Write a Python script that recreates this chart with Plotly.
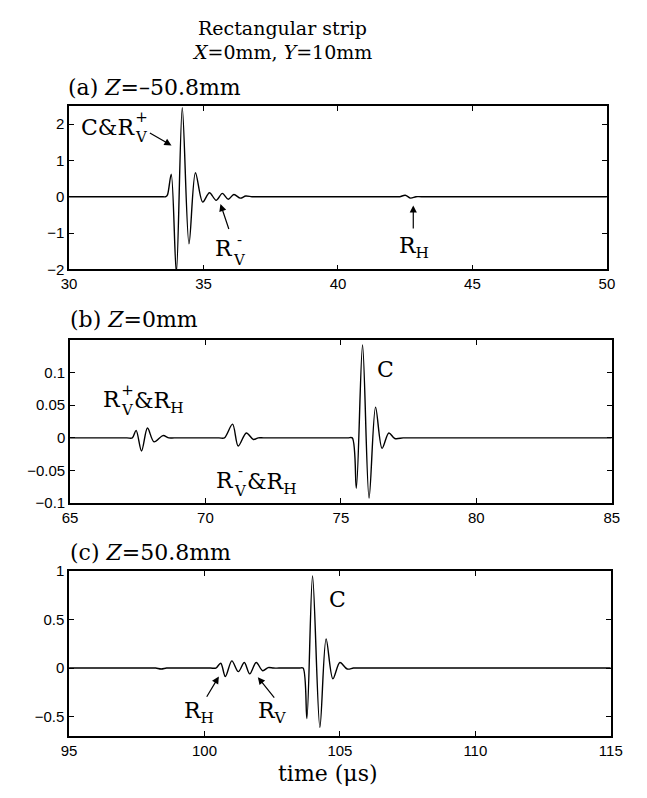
import plotly.graph_objects as go

W, H = 647, 798

# ---------------- data ----------------
# (a) Z = -50.8 mm
t_a = [30, 33.4, 33.6, 33.66, 33.80, 33.99, 34.21, 34.46, 34.70, 34.97, 35.22, 35.47, 35.70,
       35.92, 36.13, 36.37, 36.57, 36.8, 37.0, 42.1, 42.3, 42.5, 42.7, 42.9, 43.1, 50]
v_a = [0, 0, 0, 0.05, 0.62, -2.1, 2.45, -1.30, 0.66, -0.15, 0.11, -0.10, 0.09,
       -0.07, 0.06, -0.04, 0.02, 0, 0, 0, 0, 0.04, -0.04, 0, 0, 0]

# (b) Z = 0 mm
t_b = [65, 67.1, 67.30, 67.44, 67.64, 67.86, 68.10, 68.43, 68.65, 68.85, 70.5, 70.7, 71.0,
       71.21, 71.51, 71.77, 71.95, 72.15, 75.25, 75.42, 75.57, 75.80, 76.04, 76.28, 76.52,
       76.77, 76.99, 77.3, 77.5, 85]
v_b = [0, 0, 0, 0.0115, -0.020, 0.015, -0.006, 0.0035, 0, 0, 0, 0, 0.021,
       -0.0125, 0.0075, -0.0025, 0, 0, 0, 0, -0.077, 0.142, -0.092, 0.047, -0.016,
       0.0075, -0.001, 0, 0, 0]

# (c) Z = 50.8 mm
t_c = [95, 98.0, 98.2, 98.4, 98.6, 98.8, 100.22, 100.42, 100.6, 100.77, 101.01, 101.25,
       101.47, 101.67, 101.91, 102.15, 102.35, 102.55, 102.75, 103.5, 103.64, 103.78,
       103.99, 104.26, 104.49, 104.74, 105.0, 105.27, 105.5, 105.7, 115]
v_c = [0, 0, 0, -0.01, 0, 0, 0, 0, 0.05, -0.087, 0.074, -0.037,
       0.057, -0.06, 0.057, -0.027, 0.005, 0, 0, 0, 0, -0.52,
       0.946, -0.61, 0.30, -0.11, 0.057, -0.01, 0, 0, 0]

x_ticks_a = [30, 35, 40, 45, 50]
y_ticks_a = [-2, -1, 0, 1, 2]
x_ticks_b = [65, 70, 75, 80, 85]
y_ticks_b = [-0.1, -0.05, 0, 0.05, 0.1]
x_ticks_c = [95, 100, 105, 110, 115]
y_ticks_c = [-0.5, 0, 0.5, 1]

SERIF = "DejaVu Serif"
SANS = "Liberation Sans"

fig = go.Figure()
for i, (t, v) in enumerate([(t_a, v_a), (t_b, v_b), (t_c, v_c)]):
    sfx = "" if i == 0 else str(i + 1)
    fig.add_trace(go.Scatter(x=t, y=v, mode="lines", xaxis="x" + sfx, yaxis="y" + sfx,
                             line=dict(color="black", width=1.4, shape="spline", smoothing=0.9),
                             showlegend=False, hoverinfo="skip"))


def px_dom(a, b, total):
    return [a / total, b / total]


def py_dom(top, bottom):
    return [1 - bottom / H, 1 - top / H]


def axis_common(ticks, rng, dom, anchor):
    return dict(range=rng, domain=dom, anchor=anchor, tickvals=ticks,
                showline=True, linecolor="black", linewidth=1.6, mirror="ticks",
                ticks="inside", ticklen=5, tickcolor="black", tickwidth=1.2,
                showgrid=False, zeroline=False,
                tickfont=dict(family=SANS, size=15, color="black"))


fig.update_layout(
    width=W, height=H, margin=dict(l=0, r=0, t=0, b=0),
    paper_bgcolor="white", plot_bgcolor="white",
    xaxis=axis_common(x_ticks_a, [30, 50], px_dom(63, 618, W), "y"),
    yaxis=axis_common(y_ticks_a, [-2, 2.5], py_dom(99, 266), "x"),
    xaxis2=axis_common(x_ticks_b, [65, 85], px_dom(64, 623, W), "y2"),
    yaxis2=axis_common(y_ticks_b, [-0.1, 0.15], py_dom(338, 505), "x2"),
    xaxis3=axis_common(x_ticks_c, [95, 115], px_dom(63, 622, W), "y3"),
    yaxis3=axis_common(y_ticks_c, [-0.7, 1], py_dom(574, 743), "x3"),
)

ann = []


def ptext(text, x, y, size=18, xanchor="center", yanchor="middle"):
    ann.append(dict(text=text, x=x / W, y=1 - y / H, xref="paper", yref="paper",
                    xanchor=xanchor, yanchor=yanchor, showarrow=False, borderpad=0,
                    font=dict(family=SERIF, size=size, color="black")))


def stacked(x, y, sup, sub, size=15):
    # superscript sitting directly above the subscript
    ann.append(dict(text=sup + "<br>" + sub, x=x / W, y=1 - y / H, xref="paper", yref="paper",
                    xanchor="left", yanchor="middle", align="center", showarrow=False,
                    borderpad=0, font=dict(family=SERIF, size=size, color="black")))


def arrow(xr, yr, tip, tail):
    ann.append(dict(text="", x=tip[0], y=tip[1], ax=tail[0], ay=tail[1],
                    xref=xr, yref=yr, axref=xr, ayref=yr, showarrow=True,
                    arrowhead=2, arrowsize=1.2, arrowwidth=1.2, arrowcolor="black",
                    standoff=0, startstandoff=0))


LS = 22  # label font size

# titles
ptext("Rectangular strip", 283, 19, 19)
ptext("<i>X</i>=0mm, <i>Y</i>=10mm", 283, 44, 19)
ptext("(a) <i>Z</i>=\u201350.8mm", 61, 80, 22, xanchor="left")
ptext("(b) <i>Z</i>=0mm", 63, 317, 22, xanchor="left")
ptext("(c) <i>Z</i>=50.8mm", 63, 555, 22, xanchor="left")
ptext("time (\u03bcs)", 330, 781, 22)

# panel a labels
ptext("C&amp;R", 132, 121, LS, xanchor="right")
stacked(130, 121, "+", "V")
arrow("x", "y", (33.81, 1.41), (32.95, 1.78))
ptext("R", 233, 245, LS, xanchor="right")
stacked(231, 246, "-", "V")
arrow("x", "y", (35.63, -0.2), (35.96, -0.93))
ptext("R<sub>H</sub>", 402, 244, LS, xanchor="left")
arrow("x", "y", (42.8, -0.24), (42.8, -0.92))

# panel b labels
ptext("R", 118, 399, LS, xanchor="right")
stacked(116, 399, "+", "V")
ptext("&amp;R<sub>H</sub>", 129, 402, LS, xanchor="left")
ptext("R", 234, 482, LS, xanchor="right")
stacked(232, 482, "-", "V")
ptext("&amp;R<sub>H</sub>", 246, 485, LS, xanchor="left")
ptext("C", 390, 368, LS)

# panel c labels
ptext("R<sub>H</sub>", 181, 719, LS, xanchor="left")
arrow("x3", "y3", (100.53, -0.087), (100.05, -0.31))
ptext("R<sub>V</sub>", 257, 719, LS, xanchor="left")
arrow("x3", "y3", (101.97, -0.094), (102.62, -0.32))
ptext("C", 340, 603, LS)

fig.update_layout(annotations=ann)
fig.write_html("out.html")
